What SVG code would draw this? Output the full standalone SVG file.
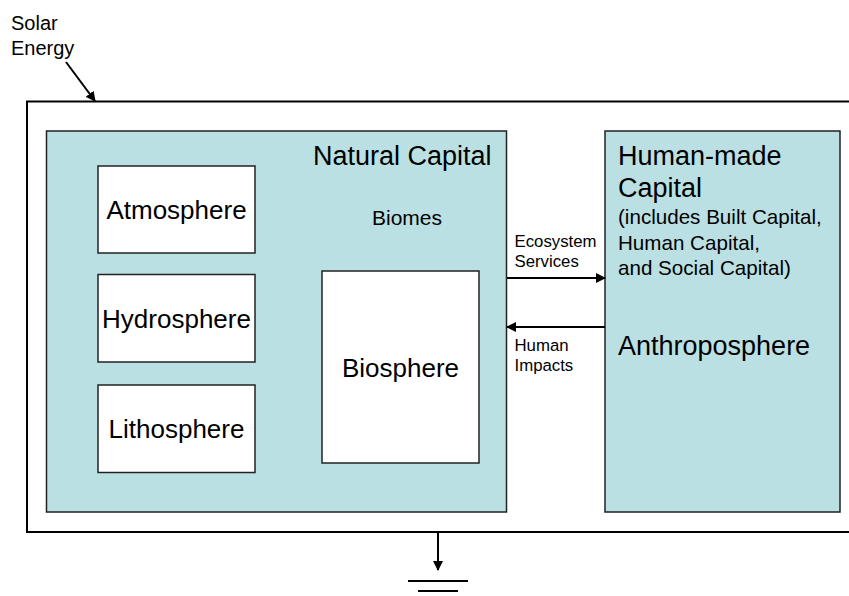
<svg xmlns="http://www.w3.org/2000/svg" width="849" height="596" viewBox="0 0 849 596">
<defs>
<style>
text{font-family:"Liberation Sans",Arial,sans-serif;fill:#000}
.blue{fill:#BBE0E3;stroke:#222;stroke-width:1.5}
.white{fill:#fff;stroke:#222;stroke-width:1.5}
.ln{stroke:#000;stroke-width:2;fill:none}
.big{font-size:27px}
.sph{font-size:26px;text-anchor:middle}
.sm{font-size:16.8px}
.mid{font-size:20.6px}
</style>
<marker id="ah" markerWidth="10" markerHeight="10" refX="9" refY="5" orient="auto" markerUnits="userSpaceOnUse">
<path d="M0,0 L10,5 L0,10 Z" fill="#000"/>
</marker>
</defs>
<rect width="849" height="596" fill="#fff"/>
<g id="system">
<rect x="27" y="101.5" width="830" height="430.5" fill="#fff" stroke="#000" stroke-width="2"/>
</g>
<g id="solar">
<text x="11" y="30" font-size="20">Solar</text>
<text x="11" y="55" font-size="20">Energy</text>
</g>
<g id="natural">
<rect class="blue" x="46.5" y="131" width="460" height="381"/>
<text class="big" x="313" y="165">Natural Capital</text>
<text x="407" y="225" font-size="21" text-anchor="middle">Biomes</text>
</g>
<g id="atmosphere">
<rect class="white" x="98" y="166" width="157" height="87"/>
<text class="sph" x="176.5" y="219">Atmosphere</text>
</g>
<g id="hydrosphere">
<rect class="white" x="98" y="274.5" width="157" height="87.5"/>
<text class="sph" x="176.5" y="328">Hydrosphere</text>
</g>
<g id="lithosphere">
<rect class="white" x="98" y="385" width="157" height="87.5"/>
<text class="sph" x="176.5" y="438">Lithosphere</text>
</g>
<g id="biosphere">
<rect class="white" x="322" y="271" width="157" height="192"/>
<text class="sph" x="400.5" y="377">Biosphere</text>
</g>
<g id="humanmade">
<rect class="blue" x="605" y="131" width="235" height="381"/>
<text class="big" x="618" y="165">Human-made</text>
<text class="big" x="618" y="197">Capital</text>
<text class="mid" x="618" y="224">(includes Built Capital,</text>
<text class="mid" x="618" y="249.5">Human Capital,</text>
<text class="mid" x="618" y="275">and Social Capital)</text>
<text class="big" x="618" y="355">Anthroposphere</text>
</g>
<g id="ground">
<line class="ln" x1="408" y1="581" x2="468" y2="581"/>
<line class="ln" x1="418" y1="591" x2="458" y2="591"/>
</g>
<g id="connectors">
<line class="ln" x1="66" y1="62" x2="95" y2="101" marker-end="url(#ah)"/>
<line class="ln" x1="507" y1="278" x2="605" y2="278" marker-end="url(#ah)"/>
<line class="ln" x1="605" y1="327" x2="507" y2="327" marker-end="url(#ah)"/>
<line class="ln" x1="438" y1="532" x2="438" y2="570" marker-end="url(#ah)"/>
<text class="sm" x="514.5" y="247">Ecosystem</text>
<text class="sm" x="514.5" y="267">Services</text>
<text class="sm" x="514.5" y="351">Human</text>
<text class="sm" x="514.5" y="371">Impacts</text>
</g>
</svg>
